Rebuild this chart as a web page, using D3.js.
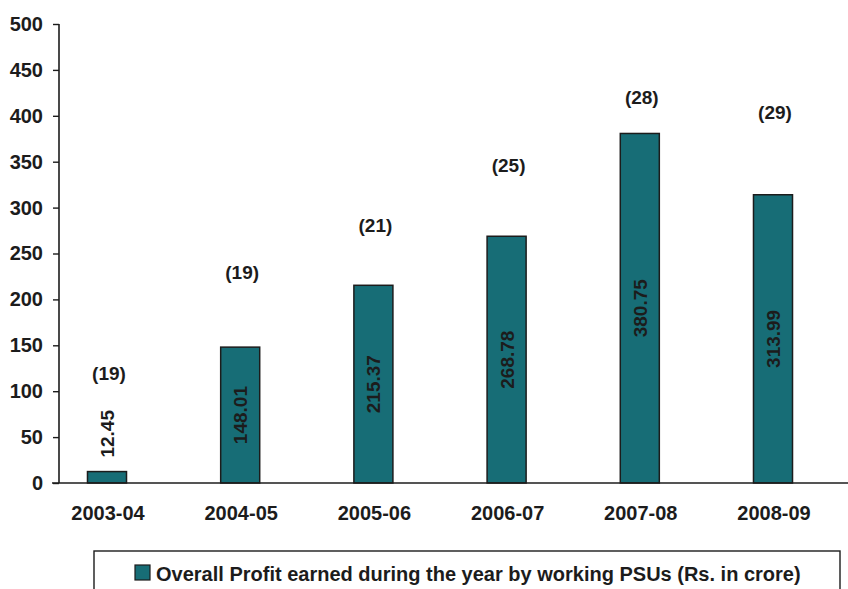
<!DOCTYPE html>
<html>
<head>
<meta charset="utf-8">
<script src="https://cdn.jsdelivr.net/npm/d3@7"></script>
<style>
  html, body { margin: 0; padding: 0; background: #fff; }
  svg { display: block; }
  text { font-family: "Liberation Sans", Arial, Helvetica, sans-serif; font-weight: bold; fill: #1c1c1c; }
</style>
</head>
<body>
<svg id="chart" width="848" height="589"></svg>
<script>
// Financial years
const years = ["2003-04", "2004-05", "2005-06", "2006-07", "2007-08", "2008-09"];
// Overall profit earned by working PSUs (Rs. in crore)
const profit = [12.45, 148.01, 215.37, 268.78, 380.75, 313.99];
// Number of working PSUs earning profit, shown in brackets
const psuCount = [19, 19, 21, 25, 28, 29];
// Height (in axis units) at which each bracketed count sits
const countLevel = [120, 230, 281, 346, 420, 404];
// Y-axis ticks
const yTicks = [0, 50, 100, 150, 200, 250, 300, 350, 400, 450, 500];
const legendLabel = "Overall Profit earned during the year by working PSUs (Rs. in crore)";

const barFill = "#176d76";
const ink = "#1c1c1c";

const svg = d3.select("#chart");

const x = d3.scaleBand().domain(years).range([40.4, 839.6]).paddingInner(0.707).paddingOuter(0.3535);
const y = d3.scaleLinear().domain([0, 500]).range([483, 24]);
const axisX = 59;

// Y axis
const yAxis = svg.append("g")
  .attr("transform", `translate(${axisX},0)`)
  .call(d3.axisLeft(y).tickValues(yTicks).tickSize(6).tickPadding(10));
yAxis.select(".domain").attr("stroke", ink).attr("stroke-width", 1.6).attr("d", `M0,${y(500)}V${y(0)}`);
yAxis.selectAll(".tick line").attr("stroke", ink).attr("stroke-width", 1.4);
yAxis.selectAll(".tick text").attr("font-size", 20).attr("font-family", null).style("fill", ink);

// Bars
svg.append("g").selectAll("rect")
  .data(years)
  .join("rect")
  .attr("x", d => x(d))
  .attr("width", x.bandwidth())
  .attr("y", (d, i) => y(profit[i]))
  .attr("height", (d, i) => y(0) - y(profit[i]))
  .attr("fill", barFill)
  .attr("stroke", ink)
  .attr("stroke-width", 1.5);

// Baseline
svg.append("line")
  .attr("x1", 52).attr("x2", 848)
  .attr("y1", y(0)).attr("y2", y(0))
  .attr("stroke", ink).attr("stroke-width", 1.6);

// X labels
svg.append("g").selectAll("text")
  .data(years)
  .join("text")
  .attr("x", d => x(d) + x.bandwidth() / 2 + 1)
  .attr("y", 520)
  .attr("text-anchor", "middle")
  .attr("font-size", 20)
  .text(d => d);

// Value labels, rotated; inside the bar when it is tall enough, else just above it
svg.append("g").selectAll("text")
  .data(years)
  .join("text")
  .attr("transform", (d, i) => {
    const cx = x(d) + x.bandwidth() / 2;
    const h = y(0) - y(profit[i]);
    const cy = h > 80 ? (y(0) + y(profit[i])) / 2 : y(profit[i]) - 14;
    return `translate(${cx + 7},${cy}) rotate(-90)`;
  })
  .attr("text-anchor", (d, i) => (y(0) - y(profit[i]) > 80 ? "middle" : "start"))
  .attr("font-size", 19)
  .text((d, i) => profit[i].toFixed(2));

// Bracketed PSU counts
svg.append("g").selectAll("text")
  .data(years)
  .join("text")
  .attr("x", d => x(d) + x.bandwidth() / 2 + 2)
  .attr("y", (d, i) => y(countLevel[i]) + 7)
  .attr("text-anchor", "middle")
  .attr("font-size", 19)
  .text((d, i) => `(${psuCount[i]})`);

// Legend
const legend = svg.append("g");
legend.append("rect")
  .attr("x", 94).attr("y", 551)
  .attr("width", 746).attr("height", 60)
  .attr("fill", "none").attr("stroke", ink).attr("stroke-width", 1.4);
legend.append("rect")
  .attr("x", 135).attr("y", 565)
  .attr("width", 15).attr("height", 15)
  .attr("fill", barFill).attr("stroke", ink).attr("stroke-width", 1.2);
legend.append("text")
  .attr("x", 156).attr("y", 581)
  .attr("font-size", 20)
  .text(legendLabel);
</script>
</body>
</html>
